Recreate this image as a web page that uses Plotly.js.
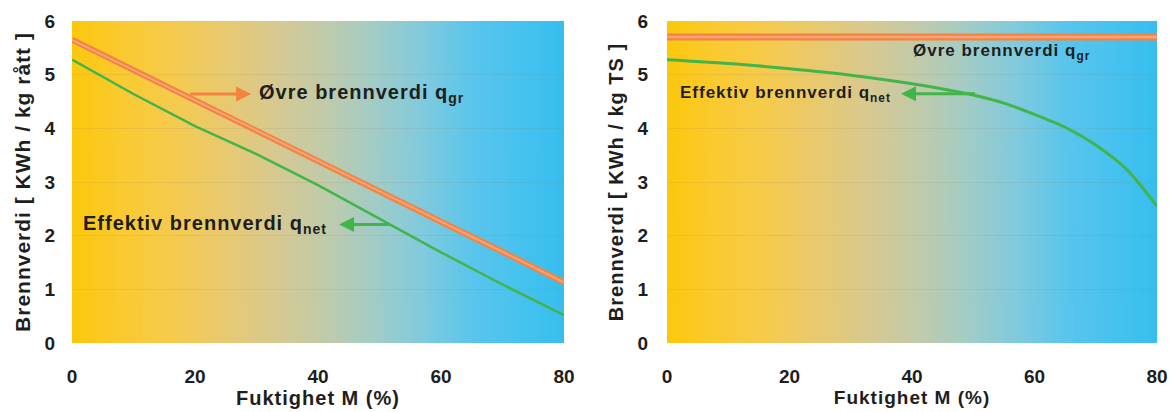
<!DOCTYPE html>
<html>
<head>
<meta charset="utf-8">
<script src="https://cdn.plot.ly/plotly-3.0.1.min.js"></script>
<style>
html,body{margin:0;padding:0;background:#fff;}
#chart{width:1169px;height:412px;}
.annotation-text,.xtitle,.ytitle,.x2title,.y2title{letter-spacing:1px;}
</style>
</head>
<body>
<div id="chart"></div>
<script>
// ---- data ----
const moistureRaw = [0, 10, 20, 30, 40, 50, 60, 70, 80];          // Fuktighet M (%)
const grossPerRaw = [5.65, 5.08, 4.52, 3.96, 3.39, 2.83, 2.26, 1.70, 1.13]; // kWh / kg rått
const netPerRaw   = [5.28, 4.64, 4.04, 3.52, 2.94, 2.31, 1.69, 1.09, 0.52];

const moistureDry = [0, 10, 20, 30, 40, 50, 55, 60, 65, 70, 75, 80];
const grossPerDry = [5.7, 5.7, 5.7, 5.7, 5.7, 5.7, 5.7, 5.7, 5.7, 5.7, 5.7, 5.7]; // kWh / kg TS
const netPerDry   = [5.28, 5.21, 5.11, 4.99, 4.83, 4.62, 4.47, 4.26, 4.02, 3.69, 3.24, 2.55];

const xTicks = [0, 20, 40, 60, 80];
const yTicks = [0, 1, 2, 3, 4, 5, 6];
const xTitle = 'Fuktighet M (%)';
const yTitleLeft = 'Brennverdi [ KWh / kg rått ]';
const yTitleRight = 'Brennverdi [ KWh / kg TS ]';
const labelGross = 'Øvre brennverdi q<sub>gr</sub>';
const labelNet = 'Effektiv brennverdi q<sub>net</sub>';

// ---- background gradient (yellow -> blue) ----
function gradientImage() {
  const c = document.createElement('canvas');
  c.width = 600; c.height = 4;
  const g = c.getContext('2d');
  const grd = g.createLinearGradient(0, 0, 600, 0);
  grd.addColorStop(0.00, '#FCC80C');
  grd.addColorStop(0.10, '#FACA30');
  grd.addColorStop(0.20, '#F6CB4C');
  grd.addColorStop(0.31, '#E8C970');
  grd.addColorStop(0.41, '#D8C990');
  grd.addColorStop(0.52, '#BFCBAC');
  grd.addColorStop(0.62, '#A0CCC8');
  grd.addColorStop(0.72, '#7ECADF');
  grd.addColorStop(0.82, '#58C5EC');
  grd.addColorStop(0.92, '#45C2EF');
  grd.addColorStop(1.00, '#36BEEE');
  g.fillStyle = grd;
  g.fillRect(0, 0, 600, 4);
  return c.toDataURL('image/png');
}
const bg = gradientImage();

const FONT = 'Liberation Sans, Arial, sans-serif';
const INK = '#1e1e1e';
const ORANGE = '#F2843F';
const PEACH = '#F6A27C';
const GREEN = '#42B54A';

const traces = [
  {x: moistureRaw, y: grossPerRaw, xaxis: 'x', yaxis: 'y', mode: 'lines',
   line: {color: ORANGE, width: 6}, hoverinfo: 'skip'},
  {x: moistureRaw, y: grossPerRaw, xaxis: 'x', yaxis: 'y', mode: 'lines',
   line: {color: PEACH, width: 2}, hoverinfo: 'skip'},
  {x: moistureRaw, y: netPerRaw, xaxis: 'x', yaxis: 'y', mode: 'lines',
   line: {color: GREEN, width: 2.5}, hoverinfo: 'skip'},
  {x: moistureDry, y: grossPerDry, xaxis: 'x2', yaxis: 'y2', mode: 'lines',
   line: {color: ORANGE, width: 7}, hoverinfo: 'skip'},
  {x: moistureDry, y: grossPerDry, xaxis: 'x2', yaxis: 'y2', mode: 'lines',
   line: {color: PEACH, width: 2.5}, hoverinfo: 'skip'},
  {x: moistureDry, y: netPerDry, xaxis: 'x2', yaxis: 'y2', mode: 'lines',
   line: {color: GREEN, width: 3, shape: 'spline', smoothing: 0.8}, hoverinfo: 'skip'}
];

function xAxis(domain, anchor, titleSize) {
  return {domain: domain, anchor: anchor, range: [0, 80], tickvals: xTicks,
    showgrid: false, zeroline: false, showline: false, ticks: '',
    ticklabelstandoff: 20, fixedrange: true, automargin: false,
    tickfont: {family: FONT, size: 19, color: INK, weight: 700},
    title: {text: xTitle, standoff: 4,
            font: {family: FONT, size: titleSize, color: INK, weight: 700}}};
}
function yAxis(anchor, standoff, title, titleSize, titleStandoff) {
  return {domain: [0, 1], anchor: anchor, range: [0, 6], tickvals: yTicks,
    showgrid: true, gridcolor: 'rgba(140,120,90,0.13)', gridwidth: 1,
    zeroline: false, showline: false, ticks: '', ticklabelstandoff: standoff,
    fixedrange: true, automargin: false,
    tickfont: {family: FONT, size: 19, color: INK, weight: 700},
    title: {text: title, standoff: titleStandoff,
            font: {family: FONT, size: titleSize, color: INK, weight: 700}}};
}

// label with an arrow coming from the curve (tail) to the label (head)
function arrowLabel(xref, yref, xText, yText, xCurve, text, size, color, gap, anchor) {
  return {xref: xref, yref: yref, axref: xref, ayref: yref,
    x: xCurve, y: yText, ax: xText, ay: yText, text: text,
    xanchor: anchor, yanchor: 'middle',
    showarrow: true, arrowside: 'start', startarrowhead: 2, startarrowsize: 1,
    arrowwidth: 3, arrowcolor: color, startstandoff: gap,
    font: {family: FONT, size: size, color: INK, weight: 700}};
}
function label(xref, yref, x, y, text, size) {
  return {xref: xref, yref: yref, x: x, y: y, text: text, showarrow: false,
    xanchor: 'left', yanchor: 'middle',
    font: {family: FONT, size: size, color: INK, weight: 700}};
}

const annotations = [
  arrowLabel('x', 'y', 30.1, 4.64, 19.2, labelGross, 20, ORANGE, 6, 'left'),
  arrowLabel('x', 'y', 41.8, 2.21, 51.7, labelNet, 20, GREEN, 10, 'right'),
  label('x2', 'y2', 39.8, 5.43, labelGross, 17),
  arrowLabel('x2', 'y2', 36.9, 4.645, 50.3, labelNet, 17, GREEN, 8, 'right')
];

const layout = {
  width: 1169, height: 412,
  margin: {l: 0, r: 0, t: 21, b: 69, pad: 0},
  paper_bgcolor: '#ffffff',
  plot_bgcolor: 'rgba(0,0,0,0)',
  showlegend: false,
  xaxis: xAxis([72 / 1169, 564 / 1169], 'y', 20),
  yaxis: yAxis('x', 16, yTitleLeft, 21, 8),
  xaxis2: xAxis([667 / 1169, 1157 / 1169], 'y2', 19),
  yaxis2: yAxis('x2', 18, yTitleRight, 20, 8),
  images: [
    {source: bg, xref: 'x domain', yref: 'y domain', x: 0, y: 1, sizex: 1, sizey: 1,
     sizing: 'stretch', xanchor: 'left', yanchor: 'top', layer: 'below'},
    {source: bg, xref: 'x2 domain', yref: 'y2 domain', x: 0, y: 1, sizex: 1, sizey: 1,
     sizing: 'stretch', xanchor: 'left', yanchor: 'top', layer: 'below'}
  ],
  annotations: annotations
};

Plotly.newPlot('chart', traces, layout, {displayModeBar: false, staticPlot: true});
</script>
</body>
</html>
